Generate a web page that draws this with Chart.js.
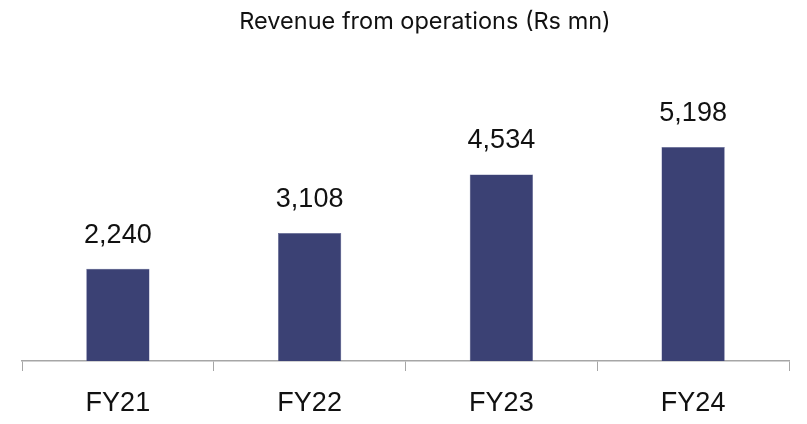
<!DOCTYPE html>
<html lang="en">
<head>
    <meta charset="UTF-8">
    <title>Revenue from operations</title>
    <script src="https://cdn.jsdelivr.net/npm/chart.js"></script>
    <style>
        html, body { margin: 0; padding: 0; background: #fff; }
        #wrap { width: 807px; height: 424px; }
    </style>
</head>
<body>
    <div id="wrap"><canvas id="revChart" width="807" height="424"></canvas></div>

    <script>
        const chartTitle = 'Revenue from operations (Rs mn)';
        const years = ['FY21', 'FY22', 'FY23', 'FY24'];
        const revenue = [2240, 3108, 4534, 5198];

        // title sits a little right of centre in the original, so draw it by hand
        const titleText = {
            id: 'titleText',
            afterDraw(chart) {
                const ctx = chart.ctx;
                ctx.save();
                ctx.font = '23.5px Inter, sans-serif';
                ctx.fillStyle = '#111';
                ctx.textAlign = 'center';
                ctx.textBaseline = 'alphabetic';
                ctx.fillText(chartTitle, 425, 29);
                ctx.restore();
            }
        };

        // value labels drawn above each bar
        const barLabels = {
            id: 'barLabels',
            afterDatasetsDraw(chart) {
                const ctx = chart.ctx;
                ctx.save();
                ctx.font = '27px "Liberation Sans", Arial, sans-serif';
                ctx.fillStyle = '#111';
                ctx.textAlign = 'center';
                ctx.textBaseline = 'alphabetic';
                chart.getDatasetMeta(0).data.forEach((bar, i) => {
                    ctx.fillText(revenue[i].toLocaleString('en-US'), bar.x, bar.y - 26);
                });
                ctx.restore();
            }
        };

        new Chart(document.getElementById('revChart'), {
            type: 'bar',
            data: {
                labels: years,
                datasets: [{
                    data: revenue,
                    backgroundColor: '#3b4174',
                    borderColor: '#5a6090',
                    borderWidth: 0.5,
                    barPercentage: 0.33,
                    categoryPercentage: 1
                }]
            },
            options: {
                responsive: false,
                animation: false,
                layout: { padding: { left: 22, right: 18, top: 112, bottom: 0 } },
                plugins: {
                    legend: { display: false },
                    tooltip: { enabled: false }
                },
                scales: {
                    x: {
                        afterFit(scale) { scale.height = 63; },
                        grid: { display: true, drawOnChartArea: false, color: '#a6a6a6', tickLength: 10, offset: true },
                        border: { color: '#a6a6a6', width: 1.5 },
                        ticks: {
                            color: '#111',
                            padding: 18,
                            font: { family: '"Liberation Sans", Arial, sans-serif', size: 27, lineHeight: 1.1 }
                        }
                    },
                    y: {
                        display: false,
                        min: 0,
                        max: 6050
                    }
                }
            },
            plugins: [barLabels, titleText]
        });
    </script>
</body>
</html>
